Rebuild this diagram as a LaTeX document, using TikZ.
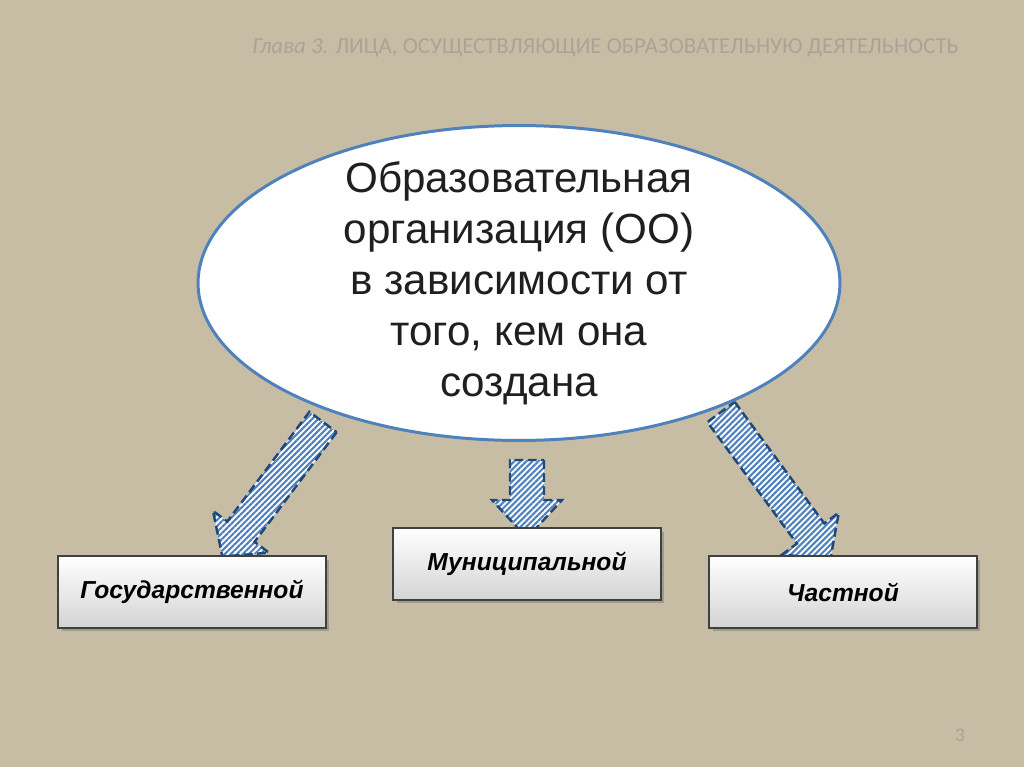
\documentclass[tikz,border=0pt]{standalone}
\usepackage{fontspec}
\setmainfont{Liberation Sans}
\newfontfamily\headfont{Carlito}
\usetikzlibrary{shapes.geometric,patterns.meta,shadows,positioning}
\definecolor{linen}{RGB}{199,189,165}
\definecolor{ovalblue}{RGB}{79,129,189}
\definecolor{arrowblue}{RGB}{31,73,125}
\definecolor{headgray}{RGB}{168,164,152}
\tikzset{
  kindbox/.style={draw=black!75, line width=0.8pt, top color=white, bottom color=black!17,
    minimum width=5.36cm, minimum height=1.44cm, font=\bfseries\itshape\fontsize{14}{16}\selectfont,
    drop shadow={shadow xshift=0.07cm, shadow yshift=-0.07cm, opacity=0.55}},
  hatcharrow/.style={draw=arrowblue, dash pattern=on 5pt off 2.5pt, line width=1.4pt, line join=miter,
    preaction={fill=white}, pattern={Lines[angle=45,distance=2.4pt,line width=1.2pt]}, pattern color=ovalblue}
}
\begin{document}
\begin{tikzpicture}[x=0.02cm, y=-0.02cm]
  % Background
  \useasboundingbox (0,0) rectangle (1024,767);
  \fill[linen] (0,0) rectangle (1024,767);
  % Title and page number
  \node[headgray, anchor=west, inner sep=0pt, font=\headfont\fontsize{13}{15}\selectfont] (head) at (252,48)
    {\textit{Глава 3.} ЛИЦА, ОСУЩЕСТВЛЯЮЩИЕ ОБРАЗОВАТЕЛЬНУЮ ДЕЯТЕЛЬНОСТЬ};
  \node[headgray, font=\headfont\fontsize{11}{13}\selectfont] (pagenum) at (960,735) {3};
  % Hatched arrows: tail x/y, angle, shaft length, head length
  \foreach \tx/\ty/\ang/\sl/\hl in {323/422/233.2/137/31, 527/460/270/40/38, 721/412/306.4/151/33}
    \draw[hatcharrow, shift={(\tx,\ty)}, rotate=\ang] (0,-17) -- (\sl,-17) -- (\sl,-35) -- ({\sl+\hl},0)
      -- (\sl,35) -- (\sl,17) -- (0,17) -- cycle;
  % Oval
  \node[ellipse, draw=ovalblue, line width=1.7pt, fill=white, minimum width=12.84cm, minimum height=6.3cm,
    inner sep=0pt] (oo) at (519,283) {};
  \node[align=center, text=black!88, font=\fontsize{24}{29}\selectfont] (ootext) at (oo.center)
    {Образовательная\\организация (ОО)\\в зависимости от\\того, кем она\\создана};
  % Kinds
  \node[kindbox] (gos) at (192,592) {Государственной};
  \node[kindbox] (mun) at (527,564) {Муниципальной};
  \node[kindbox] (chast) at (843,592) {Частной};
\end{tikzpicture}
\end{document}
